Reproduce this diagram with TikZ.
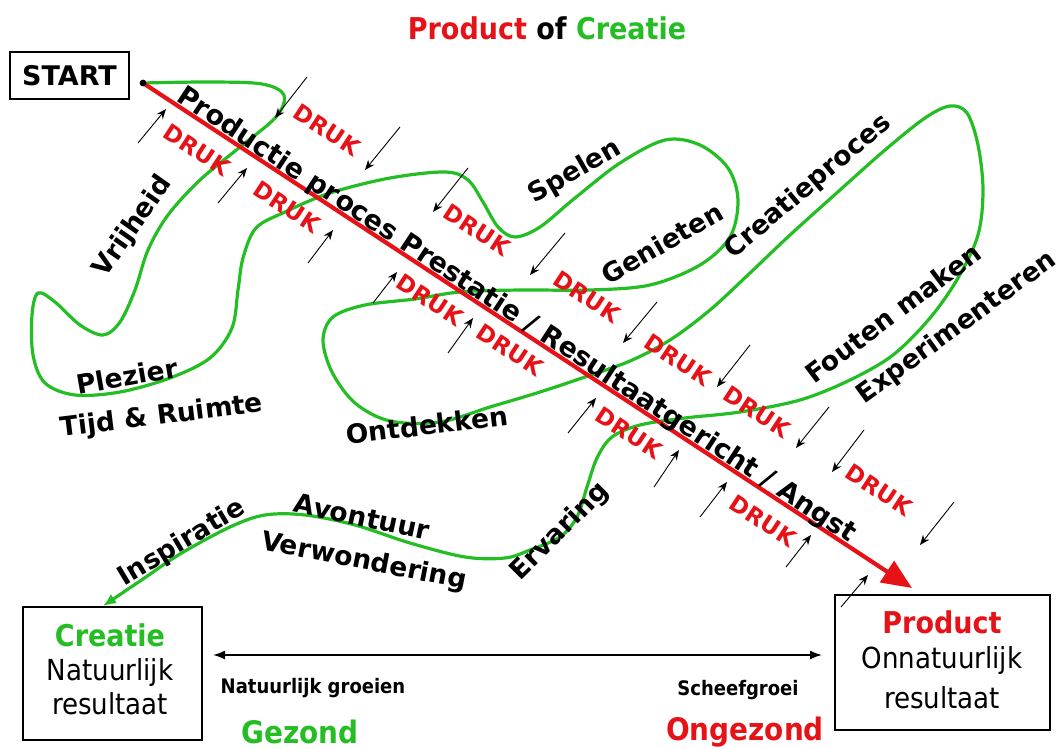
\documentclass[tikz,border=0pt]{standalone}
\usepackage{fontspec}
\setmainfont{DejaVu Sans}
\newfontfamily\condf{DejaVu Sans Condensed}
\usetikzlibrary{arrows.meta,calc}
\definecolor{dred}{RGB}{230,18,24}
\definecolor{dgreen}{RGB}{36,190,36}
\begin{document}
\begin{tikzpicture}[x=1pt,y=-1pt,
  lbl/.style={font=\bfseries\fontsize{26.5}{30}\selectfont, inner sep=0pt},
  druk/.style={font=\bfseries\fontsize{23}{26}\selectfont, text=dred, rotate=-33.3, inner sep=0pt},
  parrow/.style={-{Stealth[length=10pt,width=8pt]}, line width=0.9pt},
  frame/.style={draw, line width=1.5pt, inner sep=0pt},
  boxbold/.style={font=\condf\bfseries\fontsize{30}{34}\selectfont, inner sep=0pt},
  boxreg/.style={font=\condf\fontsize{29}{34}\selectfont, inner sep=0pt},
  small/.style={font=\condf\bfseries\fontsize{20}{24}\selectfont, inner sep=0pt},
  mid/.style={font=\condf\bfseries\fontsize{31}{34}\selectfont, inner sep=0pt}
]
\useasboundingbox (0,0) rectangle (1061,749);

% title
\node[font=\condf\bfseries\fontsize{30}{34}\selectfont, inner sep=0pt] (title) at (547,28)
  {\textcolor{dred}{Product} of \textcolor{dgreen}{Creatie}};

% START box
\node[frame, minimum width=119pt, minimum height=47pt, font=\bfseries\fontsize{27}{30}\selectfont] (start) at (69.5,75.5) {START};

% end boxes
\node[frame, minimum width=179pt, minimum height=133pt] (creatie) at (112.5,673.5) {};
\node[frame, minimum width=215pt, minimum height=135pt] (product) at (942.5,662.5) {};
\node[boxbold, text=dgreen] (cr1) at (110,635) {Creatie};
\node[boxreg] (cr2) at (110,672) {Natuurlijk};
\node[boxreg] (cr3) at (110,704) {resultaat};
\node[boxbold, text=dred] (pr1) at (942,622) {Product};
\node[boxreg] (pr2) at (942,660) {Onnatuurlijk};
\node[boxreg] (pr3) at (942,698) {resultaat};

% bottom arrow and labels
\coordinate (la) at (213,655);
\coordinate (ra) at (822,655);
\draw[{Latex[length=12pt,width=9pt]}-{Latex[length=12pt,width=9pt]}, line width=1.6pt] (la) -- (ra);
\node[small] (ng) at (313,688) {Natuurlijk groeien};
\node[small] (sg) at (738,690) {Scheefgroei};
\node[mid, text=dgreen] (gz) at (300,732) {Gezond};
\node[mid, text=dred] (og) at (745,732) {Ongezond};

% green creative path
\draw[dgreen, line width=3.2pt, line join=round, -{Latex[length=13pt,width=11pt]}]
  plot[smooth, tension=0.55] coordinates {
  (143,83) (210,82) (262,84) (284,95) (276,117) (240,147) (200,180) (168,215)
  (148,250) (135,290) (120,322) (103,335) (80,325) (55,302) (38,293) (32,315)
  (33,355) (45,383) (75,395) (120,392) (170,378) (210,358) (232,328) (238,290)
  (243,258) (256,228) (285,212) (330,193) (390,178) (445,172) (468,180) (483,202)
  (498,227) (515,237) (540,227) (575,198) (620,163) (665,140) (700,145) (728,168)
  (738,200) (730,237) (700,265) (650,285) (590,290) (520,290) (460,292) (415,299)
  (365,305) (333,317) (323,340) (332,372) (355,403) (390,421) (440,422) (490,407)
  (540,392) (585,377) (630,361) (670,340) (710,310) (750,273) (790,235) (840,190)
  (885,150) (925,118) (950,106) (967,113) (978,145) (983,190) (978,235) (958,278)
  (930,318) (893,355) (850,380) (800,400) (740,412) (685,418) (640,425) (612,437)
  (597,458) (587,487) (577,517) (560,537) (530,550) (505,558) (465,557) (410,543)
  (355,525) (305,515) (265,515) (230,527) (180,554) (143,579) (103,606)};

% red main line
\coordinate (s) at (143,83);
\coordinate (e) at (912,588);
\draw[dred, line width=4.2pt, -{Triangle[length=30pt,width=25pt]}] (s) -- (e);
\fill (s) circle (3.4pt);
\path (s) -- (e) node[pos=0.478, sloped, anchor=south, inner sep=0pt, yshift=-3pt,
  font=\bfseries\fontsize{27}{30}\selectfont] (mainlbl)
  {Productie proces Prestatie / Resultaatgericht / Angst};

% DRUK labels
\foreach \x/\y in {327/130, 477/230, 587/297, 678/360, 757/412, 879/490,
                   197/150, 287/207, 430/300, 510/350, 629/433, 763/521}
  \node[druk] at (\x,\y) {DRUK};

% pressure arrows
\foreach \a/\b/\c/\d in {307/77/275/118, 400/127/365/170, 468/168/433/212,
   565/233/530/275, 657/302/623/343, 750/345/717/387, 829/407/796/448,
   864/430/832/472, 954/502/920/545,
   138/143/166/109, 218/203/247/168, 308/263/333/230, 373/303/397/272,
   448/353/473/318, 568/433/596/398, 654/487/679/450, 700/517/727/482,
   786/567/811/535, 841/607/868/575}
  \draw[parrow] (\a,\b) -- (\c,\d);

% labels
\node[lbl, rotate=55] (l1) at (133,227) {Vrijheid};
\node[lbl, rotate=10] (l2) at (127,376) {Plezier};
\node[lbl, rotate=7] (l3) at (162,417) {Tijd \& Ruimte};
\node[lbl, rotate=7] (l4) at (427,425) {Ontdekken};
\node[lbl, rotate=30] (l5) at (575,172) {Spelen};
\node[lbl, rotate=30] (l6) at (662,243) {Genieten};
\node[lbl, rotate=40] (l7) at (808,187) {Creatieproces};
\node[lbl, rotate=37] (l8) at (893,313) {Fouten maken};
\node[lbl, rotate=36] (l9) at (957,328) {Experimenteren};
\node[lbl, rotate=45] (l10) at (560,532) {Ervaring};
\node[lbl, rotate=31] (l11) at (182,543) {Inspiratie};
\node[lbl, rotate=-12] (l12) at (362,517) {Avontuur};
\node[lbl, rotate=-11] (l13) at (364,562) {Verwondering};
\end{tikzpicture}
\end{document}
